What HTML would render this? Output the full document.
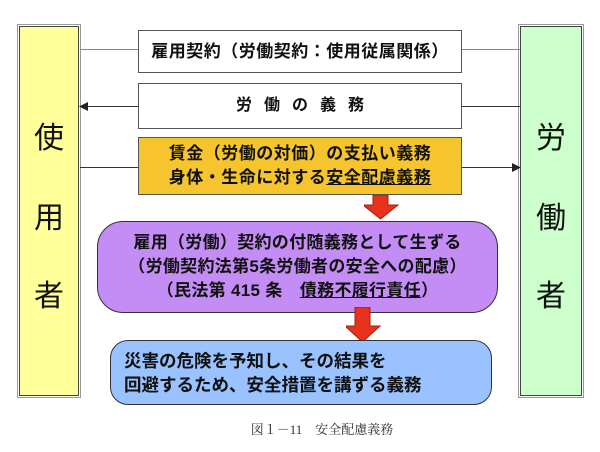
<!DOCTYPE html>
<html><head><meta charset="utf-8"><style>
body{margin:0;width:600px;height:452px;background:#fff;position:relative;font-family:"Liberation Sans","Noto Sans CJK JP",sans-serif;overflow:hidden}
.a{position:absolute;box-sizing:border-box}
.t{font-weight:bold;color:#111;text-align:center;white-space:nowrap}
.col{border:1px solid #444;outline:1px solid #999;outline-offset:1px;font-size:30px;color:#111}
.col span{position:absolute;left:0;width:100%;text-align:center}
.ln{position:absolute;height:0;border-top:1.5px solid #333}
</style></head><body>
<div class="a col" style="left:19px;top:26px;width:60px;height:370px;background:#ffff99">
<span style="top:86px">使</span><span style="top:166px">用</span><span style="top:244px">者</span></div>
<div class="a col" style="left:520px;top:26px;width:62px;height:370px;background:#ccffcc">
<span style="top:86px">労</span><span style="top:166px">働</span><span style="top:244px">者</span></div>

<div class="ln" style="left:80px;top:49px;width:440px;border-color:#888;border-width:1px"></div>
<div class="ln" style="left:86px;top:106px;width:434px"></div>
<svg class="a" style="left:79px;top:101px" width="10" height="11"><polygon points="0,5.5 9,1 9,10" fill="#222"/></svg>
<div class="ln" style="left:80px;top:167px;width:434px"></div>
<svg class="a" style="left:511px;top:162px" width="10" height="11"><polygon points="10,5.5 1,1 1,10" fill="#222"/></svg>

<div class="a t" style="left:138px;top:30px;width:324px;height:43px;background:#fff;border:1px solid #555;font-size:17px;line-height:41px;letter-spacing:0.5px">雇用契約（労働契約：使用従属関係）</div>
<div class="a t" style="left:138px;top:83px;width:324px;height:46px;background:#fff;border:1px solid #555;font-size:16px;line-height:44px;letter-spacing:12px;padding-left:12px">労働の義務</div>
<div class="a t" style="left:138px;top:137px;width:324px;height:58px;background:#f6c42c;border:1px solid #555;font-size:17px;line-height:24px;padding-top:4px;letter-spacing:0.5px">賃金（労働の対価）の支払い義務<br>身体・生命に対する<u>安全配慮義務</u></div>

<svg class="a" style="left:364px;top:195px" width="36" height="25"><polygon points="9,0 24,0 24,10 34,10 16.5,24 -1,10 9,10" fill="#e8321e" stroke="#a02010" stroke-width="1"/></svg>

<div class="a t" style="left:97px;top:221px;width:401px;height:92px;background:#c38df5;border:1.5px solid #333;border-radius:26px;font-size:17px;line-height:24px;padding-top:9px;letter-spacing:0.3px">雇用（労働）契約の付随義務として生ずる<br>（労働契約法第5条労働者の安全への配慮）<br>（民法第 415 条　<u>債務不履行責任</u>）</div>

<svg class="a" style="left:346px;top:307px" width="36" height="36"><polygon points="9,0 24,0 24,19 34,19 16.5,35 -1,19 9,19" fill="#e8321e" stroke="#a02010" stroke-width="1"/></svg>

<div class="a t" style="left:110px;top:340px;width:382px;height:65px;background:#99c2ff;border:1.5px solid #333;border-radius:18px;font-size:17.5px;line-height:24px;padding:8px 0 0 13px;text-align:left">災害の危険を予知し、その結果を<br>回避するため、安全措置を講ずる義務</div>

<div class="a" style="left:0;top:419px;width:600px;text-align:center;font-family:'Liberation Serif','Noto Serif CJK SC',serif;font-size:13px;color:#333;padding-left:44px;box-sizing:border-box">図１－11　安全配慮義務</div>
</body></html>
